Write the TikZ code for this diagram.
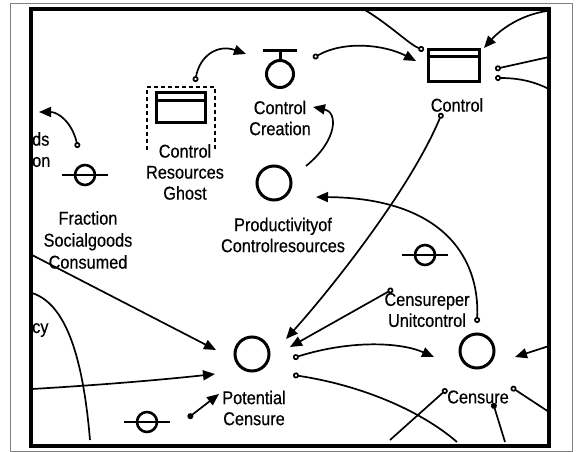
\documentclass[tikz,border=0pt]{standalone}
\usepackage{fontspec}
\setmainfont{Liberation Sans}[FakeStretch=0.88,FakeBold=0.4]
\usetikzlibrary{arrows.meta}
\begin{document}
\begin{tikzpicture}[x=1bp,y=-1bp,
  lbl/.style={font=\fontsize{18.5bp}{21bp}\selectfont, align=center, inner sep=0pt},
  link/.style={line width=1.7bp, draw=black},
  sym/.style={draw=black, line width=3bp, inner sep=0pt},
  auxc/.style={sym, circle, minimum size=34bp},
  constc/.style={sym, circle, minimum size=20bp, line width=2.6bp},
  stockbox/.style={sym, rectangle, minimum width=51bp, minimum height=32bp},
  octri/.style={link, {Circle[open,length=6bp,width=6bp]}-{Triangle[length=12bp,width=10bp]}},
  dottri/.style={link, {Circle[length=6bp,width=6bp]}-{Triangle[length=12bp,width=10bp]}},
  tri/.style={link, -{Triangle[length=12bp,width=10bp]}},
  ocnone/.style={link, {Circle[open,length=6bp,width=6bp]}-},
  dotnone/.style={link, {Circle[length=6bp,width=6bp]}-},
]
\useasboundingbox (0,0) rectangle (581,452);
% frames
\draw[gray, line width=1bp] (10,4) rectangle (572,451);
\draw[black, line width=3.5bp] (31,9) rectangle (549,446);

% stocks
\node[stockbox] (ctrl) at (453.5,65.5) {};
\draw[line width=3bp] ([yshift=-9bp]ctrl.north west) -- ([yshift=-9bp]ctrl.north east);
\node[stockbox, minimum width=49bp, minimum height=30bp] (ghost) at (180.5,108) {};
\draw[line width=3bp] ([yshift=-9bp]ghost.north west) -- ([yshift=-9bp]ghost.north east);
\draw[line width=1.6bp, dash pattern=on 4bp off 3bp] (147,150) -- (147,87) -- (215,87) -- (215,150);

% valve
\node[sym, circle, minimum size=27bp] (valve) at (280,74) {};
\coordinate (barl) at (263,51);
\coordinate (barr) at (297,51);
\draw[line width=3bp] (barl) -- (barr);
\draw[line width=3bp] (280,51) -- (valve.north);

% auxiliaries
\node[auxc] (prod) at (274,183) {};
\node[auxc] (pc) at (252,354) {};
\node[auxc] (cens) at (477,351) {};

% constants
\node[constc] (fsc) at (85,175) {};
\draw[line width=2.6bp] ([xshift=-12bp]fsc.west) -- ([xshift=12bp]fsc.east);
\node[constc] (cpu) at (425,255) {};
\draw[line width=2.6bp] ([xshift=-12bp]cpu.west) -- ([xshift=12bp]cpu.east);
\node[constc] (k3) at (147,422) {};
\draw[line width=2.6bp] ([xshift=-12bp]k3.west) -- ([xshift=12bp]k3.east);

% labels
\node[lbl] (lctrl) at (457,105) {Control};
\node[lbl] (lghost) at (185,172) {Control\\Resources\\Ghost};
\node[lbl] (lvalve) at (280,118) {Control\\Creation};
\node[lbl] (lprod) at (283,235) {Productivityof\\Controlresources};
\node[lbl] (lfsc) at (88,240) {Fraction\\[1bp]Socialgoods\\[1bp]Consumed};
\node[lbl] (lcpu) at (427,310) {Censureper\\Unitcontrol};
\node[lbl] (lpc) at (254,408) {Potential\\Censure};
\node[lbl] (lcens) at (478,397) {Censure};
\node[lbl, anchor=west] (lds) at (32,139) {ds};
\node[lbl, anchor=west] (lon) at (32,162) {on};
\node[lbl, anchor=west] (lcy) at (32,330) {cy};

% connector end points
\coordinate (a1) at (195,82);   \coordinate (a2) at (246,54);
\coordinate (b1) at (313,58);   \coordinate (b2) at (416,61);
\coordinate (c1) at (365,10);   \coordinate (c2) at (424,50);
\coordinate (d1) at (547,11);   \coordinate (d2) at (484,48);
\coordinate (e1) at (495,69);   \coordinate (e2) at (549,57);
\coordinate (f1) at (495,78);   \coordinate (f2) at (549,89);
\coordinate (g1) at (442,113);  \coordinate (g2) at (286,339);
\coordinate (h1) at (393,289);  \coordinate (h2) at (290,347);
\coordinate (i1) at (477,323);  \coordinate (i2) at (316,197);
\coordinate (j1) at (306,166);  \coordinate (j2) at (313,107);
\coordinate (k1) at (78,148);   \coordinate (k2) at (39,112);
\coordinate (l1) at (32,255);   \coordinate (l2) at (216,350);
\coordinate (m1) at (32,389);   \coordinate (m2) at (215,374);
\coordinate (n1) at (32,293);   \coordinate (n2) at (90,440);
\coordinate (o1) at (188,418);  \coordinate (o2) at (219,394);
\coordinate (p1) at (293,358);  \coordinate (p2) at (434,357);
\coordinate (q1) at (293,375);  \coordinate (q2) at (457,442);
\coordinate (r1) at (447,389);  \coordinate (r2) at (390,440);
\coordinate (s1) at (493,403);  \coordinate (s2) at (505,442);
\coordinate (t1) at (511,387);  \coordinate (t2) at (549,412);
\coordinate (u1) at (549,346);  \coordinate (u2) at (515,357);

% connectors
\draw[octri] (a1) .. controls (200,55) and (218,44) .. (a2);
\draw[octri] (b1) .. controls (345,40) and (385,45) .. (b2);
\draw[link, -{Circle[open,length=6bp,width=6bp]}] (c1) .. controls (390,25) and (410,45) .. (c2);
\draw[tri] (d1) .. controls (520,15) and (500,30) .. (d2);
\draw[ocnone] (e1) -- (e2);
\draw[ocnone] (f1) .. controls (520,78) and (535,82) .. (f2);
\draw[octri] (g1) .. controls (410,190) and (330,290) .. (g2);
\draw[octri] (h1) -- (h2);
\draw[octri] (i1) .. controls (480,255) and (440,198) .. (i2);
\draw[tri] (j1) .. controls (338,140) and (338,112) .. (j2);
\draw[octri] (k1) .. controls (72,122) and (58,112) .. (k2);
\draw[tri] (l1) -- (l2);
\draw[tri] (m1) .. controls (100,385) and (160,380) .. (m2);
\draw[link] (n1) .. controls (70,305) and (84,370) .. (n2);
\draw[dottri] (o1) -- (o2);
\draw[octri] (p1) .. controls (350,340) and (400,342) .. (p2);
\draw[ocnone] (q1) .. controls (360,385) and (420,410) .. (q2);
\draw[ocnone] (r1) -- (r2);
\draw[dotnone] (s1) -- (s2);
\draw[ocnone] (t1) -- (t2);
\draw[tri] (u1) -- (u2);
\end{tikzpicture}
\end{document}
